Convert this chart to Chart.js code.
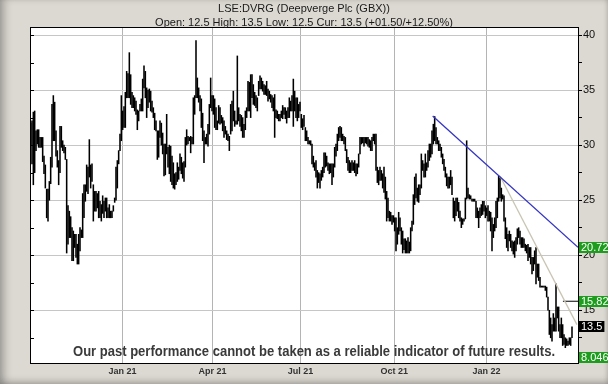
<!DOCTYPE html>
<html>
<head>
<meta charset="utf-8">
<title>LSE:DVRG</title>
<script src="https://cdn.jsdelivr.net/npm/chart.js@4/dist/chart.umd.min.js"></script>
<style>
  html, body { margin: 0; padding: 0; }
  body { width: 608px; height: 384px; overflow: hidden; background: #dcd9d2; }
  #wrap {
    position: relative; width: 608px; height: 384px;
    box-shadow: inset 7px 0 8px -3px rgba(0,0,0,0.28), inset 0 -6px 7px -3px rgba(0,0,0,0.18), inset -3px 0 4px -2px rgba(0,0,0,0.15);
  }
  canvas { position: absolute; left: 0; top: 0; }
</style>
</head>
<body>
<div id="wrap"><canvas id="chart" width="608" height="384"></canvas></div>
<script>
// LSE:DVRG daily range chart (Oct 2020 - Mar 2022)
// one sample per ~1.33px column of the original, low / high per sample

var lows = [
  30.0,28.3,26.4,27.5,29.5,30.1,29.8,29.8,29.8,28.5,27.4,26.1,23.4,23.1,25.0,26.5,28.0,30.4,30.4,29.0,
  28.0,26.4,27.5,29.8,29.5,29.3,28.7,20.2,21.0,21.6,21.6,19.5,19.5,20.7,19.8,19.2,19.2,20.4,21.6,21.6,
  23.4,24.9,25.8,25.6,27.1,26.1,26.7,23.1,24.0,24.0,24.3,23.4,23.4,23.1,23.8,23.4,24.0,23.4,23.4,23.4,
  23.4,23.4,24.0,24.8,25.0,26.1,28.3,29.5,30.4,
  31.4,31.6,31.6,34.3,34.3,34.3,33.7,33.4,33.4,33.1,32.8,31.4,32.2,33.1,33.1,33.1,35.2,34.3,32.5,33.4,
  33.9,33.1,33.0,32.5,31.4,31.3,28.7,28.9,30.7,30.0,29.2,27.2,27.3,29.2,28.0,27.4,26.7,26.4,26.1,26.0,
  26.4,26.7,26.9,27.7,27.4,27.0,26.7,28.0,30.0,30.1,30.4,29.3,30.1,30.1,32.8,34.3,34.3,33.9,33.1,31.6,
  30.4,28.4,30.1,30.1,29.9,31.0,33.4,33.1,32.8,
  31.6,31.4,31.4,32.0,31.9,32.0,31.3,30.7,31.0,30.5,30.4,29.5,31.0,31.3,32.2,31.7,31.9,31.9,32.2,31.7,
  31.3,30.7,30.7,31.4,32.5,33.1,33.1,32.5,34.3,33.7,33.6,33.4,33.1,34.5,35.1,35.1,34.9,34.6,34.6,34.5,
  34.0,34.2,33.9,33.4,33.1,30.7,32.5,32.4,32.2,32.2,32.5,32.4,32.8,32.4,32.0,32.5,32.5,33.1,33.1,31.7,
  33.1,32.5,32.2,32.5,33.1,31.6,31.4,31.7,30.4,
  30.4,30.1,30.1,30.0,28.3,28.0,27.7,27.1,26.1,26.6,26.1,26.8,27.1,27.5,28.0,28.1,27.7,27.4,27.5,26.4,
  27.1,28.0,29.0,29.5,30.4,30.7,30.4,30.4,30.1,29.5,28.4,27.7,27.5,27.5,27.7,27.7,27.5,27.2,27.4,28.0,
  29.2,30.1,30.2,29.9,30.2,30.1,29.9,29.8,29.5,29.5,30.4,30.1,27.7,26.6,26.4,26.8,26.8,26.1,25.7,25.1,
  23.1,23.4,23.1,23.1,22.8,23.0,22.2,20.4,21.0,
  21.9,22.2,21.0,20.2,20.5,20.2,20.2,20.2,20.2,20.4,22.2,22.8,24.6,25.2,24.9,24.8,25.5,26.1,27.7,27.1,
  27.1,27.7,28.0,28.6,28.9,29.2,30.1,30.4,30.1,30.1,29.5,29.5,28.9,28.3,27.7,27.1,26.3,26.1,26.1,26.4,
  25.5,23.4,23.1,23.6,24.0,23.4,23.1,22.5,22.8,23.1,23.3,25.1,25.2,25.1,25.1,24.9,24.9,24.9,23.4,23.4,
  22.5,23.4,23.6,23.7,24.0,23.4,23.6,23.1,23.1,
  22.2,20.4,21.6,22.2,22.5,23.4,24.9,25.2,24.9,25.1,23.1,21.5,20.7,20.4,21.3,20.7,20.4,20.1,19.8,20.4,
  21.0,21.6,21.0,20.7,20.7,20.7,20.4,20.2,19.5,19.8,19.2,18.3,18.6,19.2,17.4,18.0,17.7,17.1,17.1,17.1,
  17.1,16.8,16.2,15.0,12.8,12.5,12.2,13.1,13.1,13.1,14.3,13.1,12.5,12.5,11.8,11.9,11.6,11.8,11.8,11.9,
  11.8,12.5
];

var highs = [
  32.0,32.2,33.0,33.1,31.3,31.4,31.4,30.7,30.7,30.7,29.0,28.2,26.0,26.0,26.7,28.9,33.7,34.5,33.9,31.3,
  29.5,28.6,31.7,31.7,30.4,30.0,29.8,28.7,24.5,24.0,23.5,22.5,22.2,21.9,21.9,21.0,21.9,22.5,22.3,25.6,
  26.4,26.4,28.2,28.0,30.5,28.2,28.3,26.4,25.8,25.8,25.6,25.8,24.9,24.6,25.4,24.9,25.2,25.2,24.3,24.6,
  24.0,24.0,24.5,25.2,28.0,28.6,29.5,31.0,34.5,
  33.1,33.5,34.8,36.7,36.5,38.4,36.4,34.8,34.5,34.3,34.0,33.2,33.1,33.7,34.2,36.0,37.2,36.7,35.2,35.0,
  35.1,34.9,34.0,33.4,32.9,32.2,31.3,31.3,32.2,32.0,31.1,30.1,30.1,32.8,29.8,30.0,29.9,29.0,28.4,27.4,
  27.5,28.4,28.0,29.2,28.9,28.4,28.5,30.7,31.4,30.8,30.7,30.8,30.7,34.3,34.5,39.5,36.1,35.2,34.5,34.2,
  32.9,31.3,30.7,31.0,31.9,33.7,36.1,34.5,34.5,
  34.2,33.4,32.2,33.6,33.4,32.7,32.5,32.2,31.7,31.3,31.0,30.8,33.7,34.0,34.9,33.1,32.2,38.1,33.4,32.8,
  32.7,32.5,31.9,33.1,33.4,35.8,35.7,36.4,36.4,35.5,34.8,34.5,34.3,35.8,36.3,36.1,35.8,35.5,35.4,35.8,
  35.1,34.9,34.6,34.5,34.3,34.6,33.2,33.1,32.8,32.8,33.1,33.6,33.4,33.4,33.1,33.4,34.3,34.0,34.5,36.0,
  34.9,34.3,34.3,33.7,33.9,32.8,32.4,32.7,31.6,
  31.3,30.7,30.4,30.4,30.1,29.0,28.4,28.6,27.7,27.5,27.4,27.7,28.0,29.3,29.3,29.0,28.4,28.3,28.3,28.3,
  28.3,29.8,30.1,31.0,31.6,31.7,31.6,31.0,30.8,30.7,29.6,28.9,28.6,28.4,28.6,28.4,28.6,28.3,28.3,29.2,
  30.7,30.7,30.7,30.7,30.7,30.7,30.7,30.5,30.4,30.7,31.0,31.0,31.0,28.0,27.7,28.0,27.7,27.4,28.0,27.1,
  25.8,25.2,24.0,23.9,23.6,23.6,23.4,23.4,22.5,
  23.9,23.4,22.5,22.2,21.5,21.5,21.3,21.6,21.2,22.5,23.1,25.5,27.1,27.4,26.1,26.4,26.4,29.2,28.6,28.3,
  29.2,28.4,29.5,30.1,30.1,31.3,31.9,32.6,31.6,30.7,30.4,30.1,29.8,29.2,28.7,28.0,27.4,27.1,27.1,27.7,
  27.1,25.2,24.9,25.2,25.2,24.8,24.0,23.4,23.3,23.3,25.2,30.4,26.1,25.5,25.4,25.1,25.1,25.1,24.9,24.3,
  24.0,24.3,24.6,24.9,24.9,24.5,24.3,24.5,24.0,
  23.9,23.4,22.8,23.4,24.9,25.2,27.2,27.0,26.1,25.5,25.4,23.4,22.5,21.9,22.2,21.9,21.3,21.2,21.3,21.6,
  22.4,22.5,22.2,21.6,21.6,21.5,21.0,20.9,21.0,20.7,20.7,19.8,19.8,20.4,20.7,19.2,19.2,18.0,17.2,17.2,
  17.2,17.2,17.1,16.2,15.0,14.3,13.7,14.7,14.3,17.4,15.3,15.3,13.7,14.3,13.7,12.8,12.5,12.4,12.2,12.5,
  12.5,13.5
];

// x axis: sample index; quarter gridlines
var quarterPos = [68.9, 136.3, 202.3, 272.6, 341.8];
var quarterLabels = ['Jan 21', 'Apr 21', 'Jul 21', 'Oct 21', 'Jan 22'];

// y axis (right)
var majorTicks = [15, 20, 25, 30, 35, 40];
var minorTicks = [12.5, 17.5, 22.5, 27.5, 32.5, 37.5];

// trend lines [start, end]
var blueX = [301.5, 410.5];
var blueY = [32.65, 20.72];
var greyX = [352.0, 409.7];
var greyY = [27.2, 13.7];
var targetX = [399.2, 410.5];
var targetY = [15.82, 15.82];

// price boxes on the right
var markerValues = [20.72, 15.82, 13.5, 8.046];
var markerText = ['20.72', '15.82', '13.5', '8.046'];
var markerFill = ['#1e9c1e', '#1e9c1e', '#000000', '#1e9c1e'];

var titleText = 'LSE:DVRG (Deepverge Plc (GBX))';
var subText = 'Open: 12.5 High: 13.5 Low: 12.5 Cur: 13.5 (+01.50/+12.50%)';
var noteText = 'Our past performance cannot be taken as a reliable indicator of future results.';

var FONT = '"Liberation Sans", Arial, sans-serif';

var bars = [];
for (var i = 0; i < lows.length; i++) {
  bars.push({ x: i, y: [lows[i], highs[i]] });
}

function pts(xs, ys) {
  var out = [];
  for (var k = 0; k < xs.length; k++) out.push({ x: xs[k], y: ys[k] });
  return out;
}

var decor = {
  id: 'decor',
  beforeDraw: function (chart) {
    var a = chart.chartArea, ctx = chart.ctx;
    ctx.save();
    ctx.fillStyle = '#ffffff';
    ctx.fillRect(a.left, a.top, a.right - a.left, a.bottom - a.top);
    ctx.restore();
  },
  afterDraw: function (chart) {
    var a = chart.chartArea, ctx = chart.ctx, ys = chart.scales.y;
    ctx.save();

    // plot border
    ctx.strokeStyle = '#000';
    ctx.lineWidth = 1;
    ctx.strokeRect(Math.round(a.left) + 0.5, Math.round(a.top) + 0.5,
      Math.round(a.right - a.left), Math.round(a.bottom - a.top));

    // small inner ticks on the left edge
    var all = majorTicks.concat(minorTicks);
    ctx.beginPath();
    for (var t = 0; t < all.length; t++) {
      var py = Math.round(ys.getPixelForValue(all[t])) + 0.5;
      ctx.moveTo(a.left, py);
      ctx.lineTo(a.left + 4, py);
    }
    ctx.stroke();

    // titles
    ctx.fillStyle = '#1a1a1a';
    ctx.textAlign = 'center';
    ctx.textBaseline = 'middle';
    ctx.font = '11px ' + FONT;
    ctx.fillText(titleText, 304, 8.5);
    ctx.fillText(subText, 304, 22.5);

    // disclaimer
    ctx.fillStyle = '#3a3a3a';
    ctx.font = 'bold 14px "Liberation Sans Narrow", ' + FONT;
    ctx.fillText(noteText, 314, 352, 482);

    // price boxes
    ctx.font = '11px ' + FONT;
    ctx.textAlign = 'left';
    for (var m = 0; m < markerValues.length; m++) {
      var y = ys.getPixelForValue(markerValues[m]);
      y = Math.max(a.top + 6, Math.min(a.bottom - 6, y));
      var w = ctx.measureText(markerText[m]).width + 4;
      ctx.fillStyle = markerFill[m];
      ctx.fillRect(a.right + 1, Math.round(y - 5.5), w, 11);
      ctx.fillStyle = '#ffffff';
      ctx.fillText(markerText[m], a.right + 3, y + 0.5);
    }
    ctx.restore();
  }
};

new Chart(document.getElementById('chart'), {
  type: 'bar',
  data: {
    datasets: [
      { type: 'line', data: pts(blueX, blueY), borderColor: '#3434c4', borderWidth: 1.3, pointRadius: 0, order: 0 },
      { type: 'line', data: pts(greyX, greyY), borderColor: '#c9c5b4', borderWidth: 1.3, pointRadius: 0, order: 0 },
      { type: 'line', data: pts(targetX, targetY), borderColor: '#000000', borderWidth: 1, pointRadius: 0, order: 0 },
      { type: 'bar', data: bars, backgroundColor: '#000000', barThickness: 0.9, grouped: false, order: 1 }
    ]
  },
  plugins: [decor],
  options: {
    responsive: false,
    animation: false,
    devicePixelRatio: 1,
    layout: { padding: { top: 27, left: 30, right: 0, bottom: 0 } },
    plugins: { legend: { display: false }, tooltip: { enabled: false } },
    scales: {
      x: {
        type: 'linear', min: -0.5, max: 410.5, offset: false,
        afterBuildTicks: function (s) { s.ticks = quarterPos.map(function (v) { return { value: v }; }); },
        afterFit: function (s) { s.height = 21; },
        grid: { color: '#b4b4b4', drawTicks: false, offset: false },
        border: { display: false },
        ticks: {
          autoSkip: false, maxRotation: 0, padding: 3, color: '#333',
          font: { family: FONT, size: 9, weight: 'bold' },
          callback: function (v, idx) { return quarterLabels[idx]; }
        }
      },
      y: {
        type: 'linear', position: 'right', min: 10.21, max: 40.73,
        afterBuildTicks: function (s) {
          s.ticks = majorTicks.concat(minorTicks).sort(function (p, q) { return p - q; })
            .map(function (v) { return { value: v }; });
        },
        afterFit: function (s) { s.width = 30; },
        grid: {
          color: function (c) { return c.tick && majorTicks.indexOf(c.tick.value) >= 0 ? '#c6c6c6' : 'rgba(0,0,0,0)'; },
          tickColor: '#000', tickLength: 4
        },
        border: { display: false },
        ticks: {
          padding: 1, color: '#111',
          font: { family: FONT, size: 11 },
          callback: function (v) { return majorTicks.indexOf(v) >= 0 ? String(v) : ''; }
        }
      }
    }
  }
});
</script>
</body>
</html>
